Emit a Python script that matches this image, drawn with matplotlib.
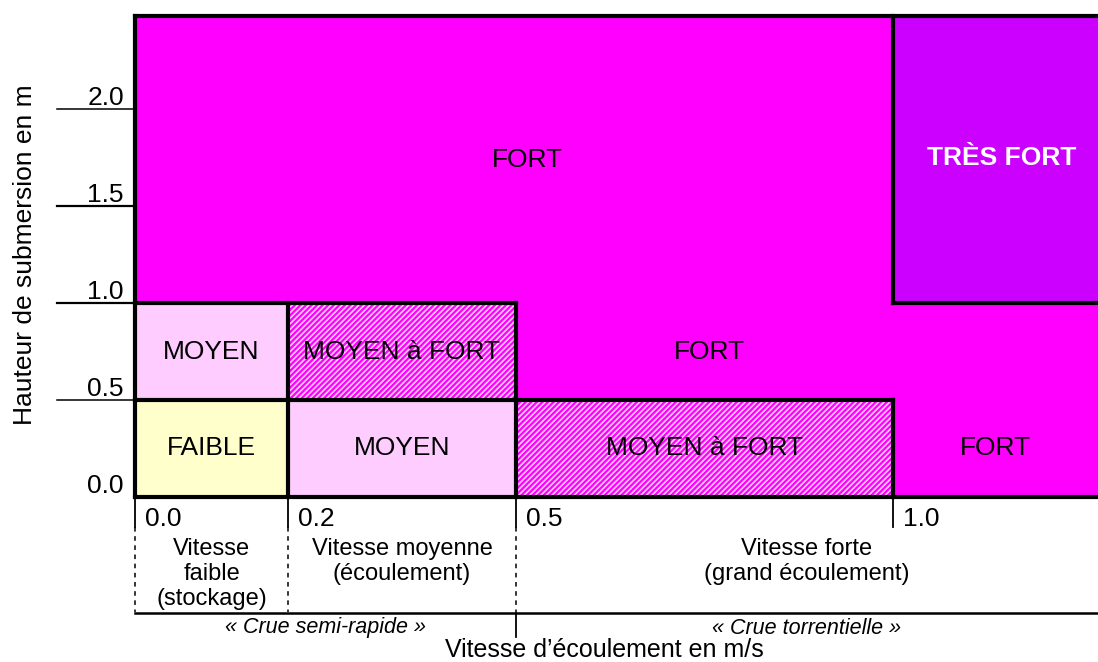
import numpy as np
import matplotlib
matplotlib.use("Agg")
import matplotlib.pyplot as plt
from matplotlib import transforms

plt.rcParams['font.family'] = ['Liberation Sans', 'DejaVu Sans']
plt.rcParams['hatch.linewidth'] = 1.6

# ---------------- data ----------------
speed_ticks = [0.0, 0.2, 0.5, 1.0]
speed_tick_labels = ["0.0", "0.2", "0.5", "1.0"]
speed_max = 1.5            # open-ended right side of the chart
depth_ticks = [0.0, 0.5, 1.0, 1.5, 2.0]
depth_tick_labels = ["0.0", "0.5", "1.0", "1.5", "2.0"]
depth_max = 2.48

# zones
zone_v0 = [0.0, 1.0, 0.0, 0.2, 0.0, 0.2, 0.5, 1.0]
zone_v1 = [speed_max, speed_max, 0.2, 0.5, 0.2, 0.5, 1.0, speed_max]
zone_h0 = [0.0, 1.0, 0.5, 0.5, 0.0, 0.0, 0.0, 0.0]
zone_h1 = [depth_max, depth_max, 1.0, 1.0, 0.5, 0.5, 0.5, 0.5]
zone_class = ["fort", "tres", "moyen", "mf", "faible", "moyen", "mf", "fort"]

class_colors = {"fort": "#FF00FF", "tres": "#CC00FF", "moyen": "#FFCCFF",
                "mf": "#FFCCFF", "faible": "#FFFFCC"}
class_hatch = {"mf": "//////"}

zone_labels = ["FORT", "TRÈS FORT", "FORT", "MOYEN", "MOYEN à FORT",
               "FAIBLE", "MOYEN", "MOYEN à FORT", "FORT"]
zone_label_v = [0.515, 1.266, 0.757, 0.1, 0.35, 0.1, 0.35, 0.75, 1.25]
zone_label_h = [1.737, 1.747, 0.747, 0.747, 0.747, 0.253, 0.253, 0.253, 0.253]

speed_class_text = ["Vitesse\nfaible\n(stockage)", "Vitesse moyenne\n(écoulement)",
                    "Vitesse forte\n(grand écoulement)"]
speed_class_bounds = [(0.0, 0.2), (0.2, 0.5), (0.5, speed_max)]
flood_text = ["« Crue semi-rapide »", "« Crue torrentielle »"]
flood_bounds = [(0.0, 0.5), (0.5, speed_max)]

# ---------------- scale (piecewise linear speed axis) ----------------
_knots_v = [0.0, 0.2, 0.5, 1.0, speed_max]
_knots_p = [0.0, 153.0, 381.0, 758.0, 963.0]

def fwd(x):
    return np.interp(x, _knots_v, _knots_p)

def inv(p):
    return np.interp(p, _knots_p, _knots_v)

def vmid(a, b):
    return float(inv((fwd(a) + fwd(b)) / 2))

W, H = 1098, 662
fig = plt.figure(figsize=(W / 100, H / 100), dpi=100)
ax = fig.add_axes([135 / W, 1 - 497 / H, 963 / W, 481 / H])
ax.set_xscale('function', functions=(fwd, inv))
ax.set_xlim(0, speed_max)
ax.set_ylim(0, depth_max)
for s in ax.spines.values():
    s.set_visible(False)
ax.set_xticks([])
ax.set_yticks([])

# zones
for v0, v1, h0, h1, c in zip(zone_v0, zone_v1, zone_h0, zone_h1, zone_class):
    ax.bar(v0, h1 - h0, width=v1 - v0, bottom=h0, align='edge',
           color=class_colors[c], edgecolor='#FF00FF' if c == 'mf' else 'none',
           hatch=class_hatch.get(c), linewidth=0)

# thick borders
lw = 3.0
segs = [
    ([0, speed_max], [depth_max, depth_max]),
    ([0, 0], [0, depth_max]),
    ([0, speed_max], [0, 0]),
    ([0, 0.5], [1.0, 1.0]),
    ([0.5, 0.5], [0, 1.0]),
    ([0.2, 0.2], [0, 1.0]),
    ([0, 1.0], [0.5, 0.5]),
    ([1.0, 1.0], [0, 0.5]),
    ([1.0, 1.0], [1.0, depth_max]),
    ([1.0, speed_max], [1.0, 1.0]),
]
for xs, ys in segs:
    ax.plot(xs, ys, color='black', lw=lw, clip_on=False, solid_capstyle='projecting')

# zone labels
for t, v, h in zip(zone_labels, zone_label_v, zone_label_h):
    if t == "TRÈS FORT":
        ax.text(v, h, t, ha='center', va='center', fontsize=19,
                fontweight='bold', color='white')
    else:
        ax.text(v, h, t, ha='center', va='center', fontsize=19, color='black')

# y ticks (outside lines + labels above them)
ty = transforms.blended_transform_factory(ax.transAxes, ax.transData)
for val, lab in zip(depth_ticks, depth_tick_labels):
    if val > 0:
        ax.plot([-78 / 963, 0], [val, val], color='black',
                lw=1.6 if val in (1.0, 1.5) else 1.1,
                transform=ty, clip_on=False)
    ax.annotate(lab, xy=(0, val), xycoords=ty, xytext=(-8, 3),
                textcoords='offset points', ha='right', va='baseline',
                fontsize=19)

# x ticks below
tx = transforms.blended_transform_factory(ax.transData, ax.transAxes)
y_tick_end = -30 / 481
y_dash_end = -115 / 481
y_hline = -116 / 481
for val, lab in zip(speed_ticks, speed_tick_labels):
    ax.plot([val, val], [0, y_tick_end], color='black', lw=1.3,
            transform=tx, clip_on=False)
    if val < 1.0:
        ax.plot([val, val], [y_tick_end, y_dash_end], color='black', lw=1.1,
                ls=(0, (3, 3)), transform=tx, clip_on=False)
    ax.annotate(lab, xy=(val, 0), xycoords=tx, xytext=(7, -7),
                textcoords='offset points', ha='left', va='top', fontsize=19)

ax.plot([0, speed_max], [y_hline, y_hline], color='black', lw=1.8,
        transform=tx, clip_on=False)
ax.plot([0.5, 0.5], [y_hline, -140 / 481], color='black', lw=1.3,
        transform=tx, clip_on=False)

for txt, (a, b) in zip(speed_class_text, speed_class_bounds):
    ax.text(vmid(a, b), -41 / 481, txt, transform=tx, ha='center', va='top',
            fontsize=17, linespacing=1.18)

for txt, (a, b) in zip(flood_text, flood_bounds):
    ax.text(vmid(a, b), -131 / 481, txt, transform=tx, ha='center',
            va='center', fontsize=15.5, style='italic')

fig.text(604 / W, 1 - 650 / H, "Vitesse d’écoulement en m/s", ha='center',
         va='center', fontsize=18)
fig.text(25 / W, 1 - 255 / H, "Hauteur de submersion en m", ha='center',
         va='center', rotation=90, fontsize=19)

fig.savefig("out.png", dpi=100)
